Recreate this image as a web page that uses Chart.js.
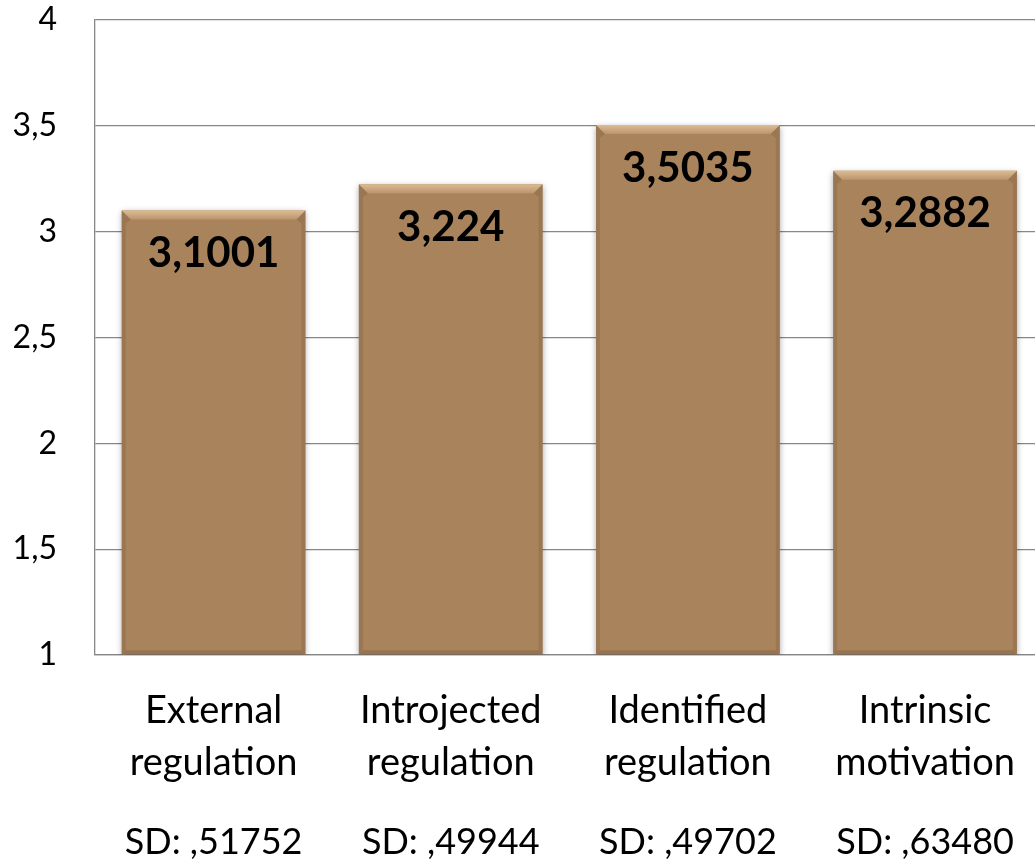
<!DOCTYPE html>
<html>
<head>
<meta charset="utf-8">
<script src="https://cdn.jsdelivr.net/npm/chart.js@4"></script>
<style>
  html, body { margin: 0; padding: 0; background: #fff; overflow: hidden; }
  #wrap { width: 1045px; height: 860px; }
</style>
</head>
<body>
<div id="wrap"><canvas id="motivChart"></canvas></div>
<script>
const categories = [
    ['External', 'regulation'],
    ['Introjected', 'regulation'],
    ['Identified', 'regulation'],
    ['Intrinsic', 'motivation']
];
const means = [3.1001, 3.224, 3.5035, 3.2882];
const sdLabels = ['SD: ,51752', 'SD: ,49944', 'SD: ,49702', 'SD: ,63480'];

const FONT = "Lato, 'Open Sans', sans-serif";
const commaNum = v => String(v).replace('.', ',');

// bevel + value label on each bar
const barDecor = {
    id: 'barDecor',
    beforeDatasetsDraw(chart) {
        const c = chart.ctx;
        c.save();
        c.shadowColor = 'rgba(0,0,0,0.35)';
        c.shadowBlur = 6;
        c.shadowOffsetY = 2;
    },
    afterDatasetsDraw(chart) {
        const c = chart.ctx;
        c.restore();
        const area = chart.chartArea;
        const meta = chart.getDatasetMeta(0);
        meta.data.forEach((bar, i) => {
            const { x, y, width } = bar.getProps(['x', 'y', 'width']);
            const base = Math.min(bar.base, area.bottom);
            const l = x - width / 2, r = x + width / 2;
            const bt = 9, bs = 4;
            c.save();
            // top bevel
            let g = c.createLinearGradient(0, y, 0, y + bt);
            g.addColorStop(0, '#dcbb93');
            g.addColorStop(1, '#bb956c');
            c.fillStyle = g;
            c.beginPath();
            c.moveTo(l, y); c.lineTo(r, y); c.lineTo(r - bt, y + bt); c.lineTo(l + bt, y + bt);
            c.closePath(); c.fill();
            // side bevels
            c.fillStyle = 'rgba(110,80,50,0.25)';
            c.beginPath();
            c.moveTo(l, y); c.lineTo(l + bt, y + bt); c.lineTo(l + bs, y + bt + 4); c.lineTo(l + bs, base - bs); c.lineTo(l, base);
            c.closePath(); c.fill();
            c.beginPath();
            c.moveTo(r, y); c.lineTo(r - bt, y + bt); c.lineTo(r - bs, y + bt + 4); c.lineTo(r - bs, base - bs); c.lineTo(r, base);
            c.closePath(); c.fill();
            // bottom edge
            c.fillStyle = 'rgba(110,80,50,0.3)';
            c.beginPath();
            c.moveTo(l, base); c.lineTo(r, base); c.lineTo(r - bs, base - bs); c.lineTo(l + bs, base - bs);
            c.closePath(); c.fill();

            c.fillStyle = '#000';
            c.font = 'bold 42px ' + FONT;
            c.textAlign = 'center';
            c.textBaseline = 'middle';
            c.fillText(commaNum(means[i]), x, y + 43);
            c.restore();
        });
    }
};

new Chart(document.getElementById('motivChart'), {
    type: 'bar',
    data: {
        labels: categories,
        datasets: [{
            data: means,
            base: 1,
            backgroundColor: '#a9835c',
            borderWidth: 0,
            categoryPercentage: 1,
            barPercentage: 0.775
        }]
    },
    options: {
        responsive: true,
        maintainAspectRatio: false,
        animation: false,
        layout: { padding: { top: 20, right: 0, left: 0, bottom: 0 } },
        plugins: {
            legend: { display: false },
            tooltip: { enabled: false }
        },
        scales: {
            y: {
                min: 1,
                max: 4,
                ticks: {
                    stepSize: 0.5,
                    color: '#000',
                    padding: 38,
                    font: { family: FONT, size: 32 },
                    callback: v => commaNum(v)
                },
                grid: { color: '#878787', lineWidth: 1.3, drawTicks: false },
                border: { display: true, color: '#878787', width: 1.3 },
                afterFit: s => { s.width = 95; s.paddingTop = 0; s.paddingBottom = 0; }
            },
            x: {
                weight: 0,
                grid: { display: false, drawTicks: false },
                border: { display: true, color: '#878787', width: 1.3 },
                ticks: {
                    color: '#000',
                    padding: 30,
                    maxRotation: 0,
                    font: { family: FONT, size: 38, lineHeight: 1.37 }
                },
                afterFit: s => { s.height = 135; }
            },
            x2: {
                type: 'category',
                position: 'bottom',
                weight: 1,
                offset: true,
                labels: sdLabels,
                grid: { display: false, drawTicks: false },
                border: { display: false },
                ticks: {
                    color: '#000',
                    padding: 28,
                    maxRotation: 0,
                    font: { family: FONT, size: 36, lineHeight: 1.37 }
                },
                afterFit: s => { s.height = 70; }
            }
        }
    },
    plugins: [barDecor]
});
</script>
</body>
</html>
